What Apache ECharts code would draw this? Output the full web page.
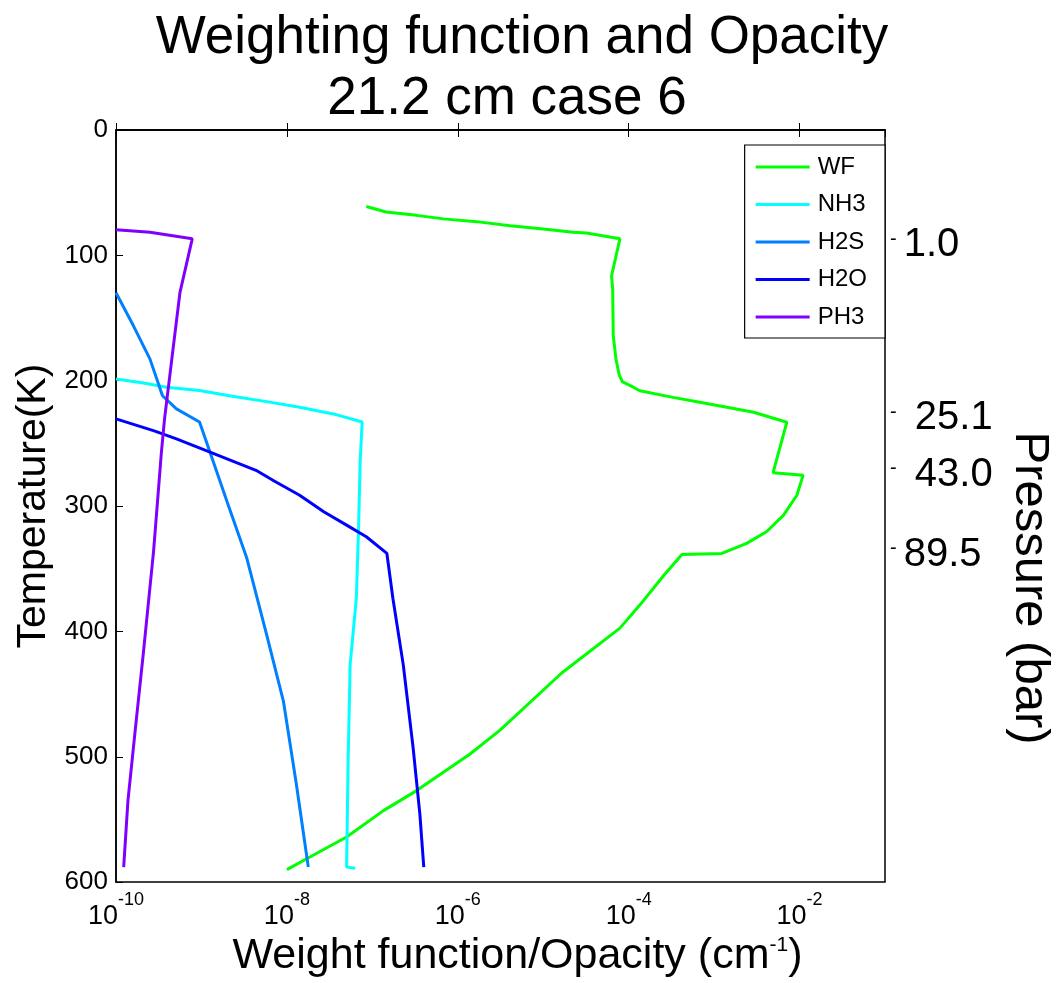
<!DOCTYPE html>
<html>
<head>
<meta charset="utf-8">
<script src="https://cdn.jsdelivr.net/npm/echarts@6/dist/echarts.min.js"></script>
<style>
  html, body { margin: 0; padding: 0; background: #fff; }
  #chart { width: 1063px; height: 983px; }
</style>
</head>
<body>
<div id="chart"></div>
<script>
// Weighting function (WF) and gas opacities versus temperature, 21.2 cm channel, case 6.

const wfTemp = [61, 65.4, 68.1, 70.9, 73.1, 76.3, 78.9, 81.6, 82.1, 86.8, 100.7, 116.5, 127.2, 164, 182.8, 196, 201, 205, 208, 213.3, 217.2, 221.2, 225.2, 233.1, 273.4, 275.5, 291.4, 307.3, 320.5, 329.8, 337.8, 338.6, 355, 379, 397.4, 433, 479, 498, 527, 543, 564, 580, 590];
const wfVal = [8.5e-8, 1.45e-7, 3.3e-7, 6.8e-7, 1.66e-6, 4.1e-6, 1.0e-5, 2.24e-5, 3.2e-5, 7.9e-5, 7.1e-5, 6.3e-5, 6.5e-5, 6.6e-5, 7.1e-5, 7.8e-5, 8.5e-5, 1.12e-4, 1.35e-4, 3.3e-4, 6.8e-4, 1.41e-3, 2.9e-3, 7.1e-3, 4.9e-3, 1.1e-2, 9.3e-3, 6.5e-3, 4.1e-3, 2.4e-3, 1.23e-3, 4.2e-4, 2.6e-4, 1.35e-4, 7.9e-5, 1.66e-5, 3.1e-6, 1.38e-6, 3.3e-7, 1.35e-7, 5.0e-8, 1.86e-8, 1.0e-8];

const nh3Temp = [198.7, 201.9, 205.3, 207.9, 212.4, 216.7, 221.2, 226.5, 233, 265, 318, 373.5, 426.5, 506, 588, 589];
const nh3Val = [1.0e-10, 2.1e-10, 3.9e-10, 9.5e-10, 2.3e-9, 5.8e-9, 1.41e-8, 3.5e-8, 7.6e-8, 7.2e-8, 6.9e-8, 6.5e-8, 5.5e-8, 5.2e-8, 5.0e-8, 6.3e-8];

const h2sTemp = [129.8, 156.2, 182.8, 212, 222.5, 233, 257, 296.7, 341.7, 402.7, 455.6, 521.8, 588];
const h2sVal = [1.0e-10, 1.6e-10, 2.5e-10, 3.5e-10, 5.1e-10, 9.5e-10, 1.26e-9, 2.0e-9, 3.4e-9, 5.8e-9, 9.1e-9, 1.29e-8, 1.78e-8];

const h2oTemp = [230.5, 240, 246.4, 257, 272, 280, 291.4, 304.6, 315.2, 324.5, 337.8, 373.5, 426.5, 492.7, 545.7, 588];
const h2oVal = [1.0e-10, 2.8e-10, 5.1e-10, 1.26e-9, 4.5e-9, 7.1e-9, 1.41e-8, 2.7e-8, 5.0e-8, 8.5e-8, 1.48e-7, 1.74e-7, 2.3e-7, 3.0e-7, 3.6e-7, 4.0e-7];

const ph3Temp = [79.5, 81.6, 86.8, 129.8, 182.8, 230.5, 257, 336.4, 416, 482, 535, 588];
const ph3Val = [1.0e-10, 2.5e-10, 7.8e-10, 5.6e-10, 4.5e-10, 3.7e-10, 3.4e-10, 2.75e-10, 2.1e-10, 1.66e-10, 1.38e-10, 1.23e-10];

const seriesNames = ['WF', 'NH3', 'H2S', 'H2O', 'PH3'];
const seriesColors = ['#00ff00', '#00ffff', '#0080ff', '#0000ff', '#8000ff'];

// Pressure levels shown on the right-hand side, placed at their temperatures
const pressureTemps = [92, 230, 275, 339];
const pressureLabels = ['-1.0', '- 25.1', '- 43.0', '-89.5'];

const titleLines = ['Weighting function and Opacity', '21.2 cm case 6'];

const FONT = '"Liberation Sans", Arial, Helvetica, sans-serif';

const chart = echarts.init(document.getElementById('chart'), null, { renderer: 'canvas' });

function pairs(vals, temps) {
  return temps.map((t, i) => [vals[i], t]);
}
const seriesData = [
  pairs(wfVal, wfTemp),
  pairs(nh3Val, nh3Temp),
  pairs(h2sVal, h2sTemp),
  pairs(h2oVal, h2oTemp),
  pairs(ph3Val, ph3Temp)
];

const xTickExponents = [-10, -8, -6, -4, -2];

const commonX = {
  type: 'log',
  logBase: 10,
  min: 1e-10,
  max: 1e-1,
  interval: 2,
  splitLine: { show: false },
  axisLine: { show: true, lineStyle: { color: '#000', width: 1.5 } },
  axisTick: { show: true, inside: true, length: 7, lineStyle: { color: '#000', width: 1 } }
};

const option = {
  animation: false,
  backgroundColor: '#fff',
  grid: {
    left: 116, right: 178, top: 130, bottom: 98,
    show: true, borderColor: '#000', borderWidth: 1.5, backgroundColor: 'transparent'
  },
  legend: {
    orient: 'vertical',
    right: 178,
    top: 145,
    data: seriesNames.map(n => ({ name: n, icon: 'rect' })),
    itemWidth: 54,
    itemHeight: 3,
    itemGap: 13.5,
    padding: [10, 18, 9, 11],
    backgroundColor: '#fff',
    borderColor: '#000',
    borderWidth: 1.2,
    borderRadius: 0,
    textStyle: { fontFamily: FONT, fontSize: 24, color: '#000', padding: [0, 0, 0, 3] }
  },
  xAxis: [
    Object.assign({}, commonX, {
      position: 'bottom',
      name: 'Weight function/Opacity (cm{sup|-1})',
      nameLocation: 'middle',
      nameGap: 50,
      nameTextStyle: {
        fontFamily: FONT, fontSize: 43, color: '#000', padding: [0, 0, 0, 34],
        rich: { sup: { fontFamily: FONT, fontSize: 21, color: '#000', verticalAlign: 'top', padding: [0, 0, 16, 0] } }
      },
      axisLabel: {
        show: true,
        margin: 9,
        showMaxLabel: false,
        formatter: function (v) {
          const e = Math.round(Math.log10(v));
          if (xTickExponents.indexOf(e) < 0) return '';
          return '{b|10}{s|' + e + '}';
        },
        rich: {
          b: { fontFamily: FONT, fontSize: 27, color: '#000', padding: [12, 0, 0, 0] },
          s: { fontFamily: FONT, fontSize: 18, color: '#000', verticalAlign: 'top' }
        }
      }
    }),
    Object.assign({}, commonX, {
      position: 'top',
      axisLabel: { show: false }
    })
  ],
  yAxis: [
    {
      type: 'value',
      position: 'left',
      inverse: true,
      min: 0,
      max: 600,
      interval: 100,
      name: 'Temperature(K)',
      nameLocation: 'middle',
      nameRotate: 90,
      nameGap: 62,
      nameTextStyle: { fontFamily: FONT, fontSize: 41, color: '#000' },
      splitLine: { show: false },
      axisLine: { show: true, lineStyle: { color: '#000', width: 1.5 } },
      axisTick: { show: true, inside: true, length: 7, lineStyle: { color: '#000' } },
      axisLabel: { fontFamily: FONT, fontSize: 26, color: '#000', margin: 8 }
    },
    {
      type: 'value',
      position: 'right',
      inverse: true,
      min: 0,
      max: 600,
      splitLine: { show: false },
      axisLine: { show: false },
      axisTick: { show: false },
      axisLabel: {
        show: true,
        margin: 5,
        customValues: pressureTemps,
        formatter: function (v) {
          let idx = 0, best = Infinity;
          pressureTemps.forEach((t, i) => { const d = Math.abs(t - v); if (d < best) { best = d; idx = i; } });
          const s = pressureLabels[idx];
          return '{d|' + s.charAt(0) + '}{v|' + s.slice(1) + '}';
        },
        rich: {
          d: { fontFamily: FONT, fontSize: 20, color: '#000', padding: [0, 7, 12, 0] },
          v: { fontFamily: FONT, fontSize: 40, color: '#000' }
        }
      }
    }
  ],
  graphic: [
    {
      type: 'text',
      x: 522, y: 12,
      style: {
        text: titleLines[0],
        font: '53px ' + FONT,
        fill: '#000',
        align: 'center',
        verticalAlign: 'top'
      }
    },
    {
      type: 'text',
      x: 507, y: 73,
      style: {
        text: titleLines[1],
        font: '53px ' + FONT,
        fill: '#000',
        align: 'center',
        verticalAlign: 'top'
      }
    },
    {
      type: 'text',
      x: 1030, y: 588,
      rotation: -Math.PI / 2,
      style: {
        text: 'Pressure (bar)',
        font: '49px ' + FONT,
        fill: '#000',
        align: 'center',
        verticalAlign: 'middle'
      }
    }
  ],
  series: seriesNames.map((n, i) => ({
    name: n,
    type: 'line',
    xAxisIndex: 0,
    yAxisIndex: 0,
    data: seriesData[i],
    showSymbol: false,
    symbol: 'none',
    smooth: false,
    color: seriesColors[i],
    lineStyle: { color: seriesColors[i], width: 3 },
    z: 2
  }))
};

chart.setOption(option);
</script>
</body>
</html>
